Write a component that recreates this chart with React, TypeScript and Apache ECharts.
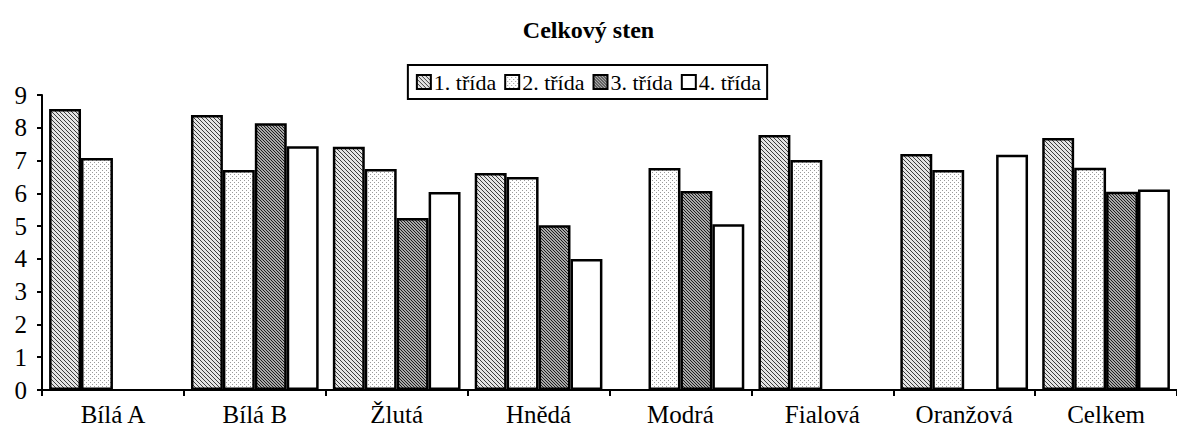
import React, { useEffect, useRef } from 'react';
import * as echarts from 'echarts';

const categories = ['Bílá A', 'Bílá B', 'Žlutá', 'Hnědá', 'Modrá', 'Fialová', 'Oranžová', 'Celkem'];
const seriesNames = ['1. třída', '2. třída', '3. třída', '4. třída'];
const trida1 = [8.57, 8.39, 7.42, 6.62, null, 7.78, 7.2, 7.69];
const trida2 = [7.08, 6.71, 6.74, 6.5, 6.77, 7.02, 6.71, 6.78];
const trida3 = [null, 8.14, 5.25, 5.03, 6.07, null, null, 6.05];
const trida4 = [null, 7.44, 6.04, 4.0, 5.06, null, 7.18, 6.12];
const titleText = 'Celkový sten';

const FONT = 'Liberation Serif';

function makePattern(bg: string, fg: string, size: number, fn: (x: number, y: number) => boolean) {
  const c = document.createElement('canvas');
  c.width = size;
  c.height = size;
  const ctx = c.getContext('2d')!;
  ctx.fillStyle = bg;
  ctx.fillRect(0, 0, size, size);
  ctx.fillStyle = fg;
  for (let x = 0; x < size; x++) {
    for (let y = 0; y < size; y++) {
      if (fn(x, y)) ctx.fillRect(x, y, 1, 1);
    }
  }
  return { image: c.toDataURL(), repeat: 'repeat', imageWidth: size, imageHeight: size } as any;
}

export default function App() {
  const ref = useRef<HTMLDivElement>(null);
  useEffect(() => {
    if (!ref.current) return;
    const chart = echarts.init(ref.current, undefined, { renderer: 'svg' });
    const p1 = makePattern('#e4e4e4', '#3c3c3c', 4, (x, y) => ((x - y) % 4 + 4) % 4 === 0);
    const p2 = makePattern('#ffffff', '#9a9a9a', 4, (x, y) => (x % 4 === 0 && y % 4 === 0) || (x % 4 === 2 && y % 4 === 2));
    const p3 = makePattern('#a8a8a8', '#1e1e1e', 3, (x, y) => ((x - y) % 3 + 3) % 3 === 0);
    const fills = [p1, p2, p3, '#ffffff'];
    const datas = [trida1, trida2, trida3, trida4];
    const option: any = {
      animation: false,
      backgroundColor: '#ffffff',
      title: {
        text: titleText,
        left: 'center',
        top: 13,
        textStyle: { fontFamily: FONT, fontSize: 24, fontWeight: 'bold', color: '#000' },
      },
      legend: {
        data: seriesNames,
        top: 65,
        left: 'center',
        orient: 'horizontal',
        icon: 'rect',
        itemWidth: 14,
        itemHeight: 14,
        itemGap: 8,
        padding: [6, 6, 6, 8],
        borderColor: '#000',
        borderWidth: 2,
        textStyle: { fontFamily: FONT, fontSize: 22, color: '#000', padding: [0, 0, 0, -2] },
      },
      grid: { left: 42, right: -6, top: 95, bottom: 45, containLabel: false },
      xAxis: {
        type: 'category',
        data: categories,
        axisLine: { lineStyle: { color: '#000', width: 2 } },
        axisTick: { show: true, length: 6, lineStyle: { color: '#000', width: 2 } },
        axisLabel: { fontFamily: FONT, fontSize: 25, color: '#000', margin: 12 },
      },
      yAxis: {
        type: 'value',
        min: 0,
        max: 9,
        interval: 1,
        axisLine: { show: true, lineStyle: { color: '#000', width: 2 } },
        axisTick: { show: true, length: 5, lineStyle: { color: '#000', width: 2 } },
        axisLabel: { fontFamily: FONT, fontSize: 25, color: '#000', margin: 15 },
        splitLine: { show: false },
      },
      series: datas.map((d, i) => ({
        name: seriesNames[i],
        type: 'bar',
        data: d,
        barGap: '0%',
        barCategoryGap: '10%',
        itemStyle: { color: fills[i], borderColor: '#000', borderWidth: 2.5 },
      })),
    };
    chart.setOption(option);
    return () => chart.dispose();
  }, []);
  return (
    <div
      ref={ref}
      style={{ position: 'fixed', left: 0, top: 0, width: 1177, height: 435, background: '#fff' }}
    />
  );
}
